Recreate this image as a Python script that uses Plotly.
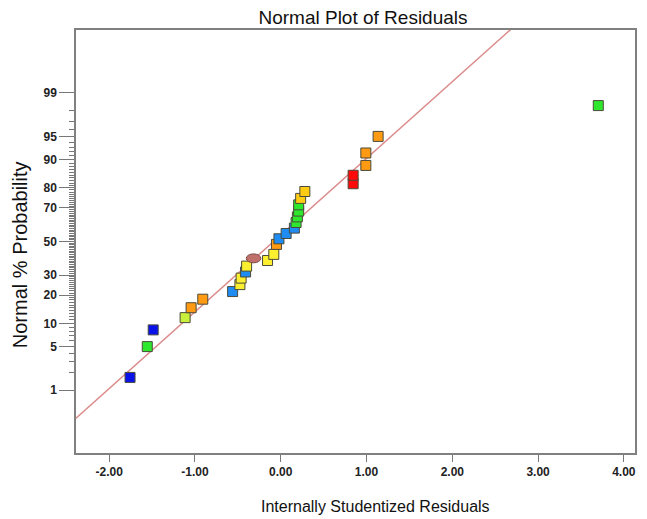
import plotly.graph_objects as go
from statistics import NormalDist

# ---------------- data ----------------
residuals = [-1.757, -1.556, -1.487, -1.115, -1.045, -0.909, -0.561, -0.476, -0.462, -0.410, -0.398,
             -0.154, -0.081, -0.050, -0.021, 0.063, 0.159, 0.179, 0.194, 0.209, 0.209, 0.232, 0.281,
             0.844, 0.844, 0.992, 0.992, 1.135, 3.702]
probabilities = [1.67, 5.0, 8.33, 11.67, 15.0, 18.33, 21.67, 25.0, 28.33, 31.67, 35.0,
                 38.3, 42.0, 48.2, 51.7, 55.0, 58.3, 61.7, 65.0, 68.3, 71.7, 75.0, 78.3,
                 81.7, 85.0, 88.3, 91.7, 95.0, 98.33]
highlight_residual = [-0.317]
highlight_probability = [39.6]

line_mean = -0.083
line_sd = 0.833

x_tick_vals = [-2, -1, 0, 1, 2, 3, 4]
x_tick_text = ["-2.00", "-1.00", "0.00", "1.00", "2.00", "3.00", "4.00"]
y_tick_pcts = [1, 5, 10, 20, 30, 50, 70, 80, 90, 95, 99]
y_tick_text = ["1", "5", "10", "20", "30", "50", "70", "80", "90", "95", "99"]
y_minor_pcts = [p for p in range(2, 99) if p not in y_tick_pcts]

# ---------------- styles ----------------
DB, BL, GR, YG, YE, GO, OR, RD = ("#0a12ea", "#1e8cf2", "#2ee82e", "#c8f03c",
                                  "#fbef30", "#ffcc14", "#ff9a12", "#ff0a0a")
point_colors = [DB, GR, DB, YG, OR, OR, BL, YE, YE, BL, YE,
                YE, YE, OR, BL, BL, BL, GR, GR, GR, GR, GO, GO,
                RD, RD, OR, OR, OR, GR]

nd = NormalDist()
def z(p):
    return nd.inv_cdf(p / 100.0)

XR = [-2.387, 4.13]
YR = [-3.31, 3.31]

W, H = 639, 511          # page body has an 8px margin
ML, MR, MT, MB = 68, 10, 22, 66
PW, PH = W - ML - MR, H - MT - MB

fig = go.Figure()

# reference line
lx = [XR[0], XR[1]]
ly = [(v - line_mean) / line_sd for v in lx]
fig.add_trace(go.Scatter(x=lx, y=ly, mode="lines",
                         line=dict(color="#dc8a8a", width=1.5),
                         hoverinfo="skip", showlegend=False))

fig.add_trace(go.Scatter(
    x=residuals, y=[z(p) for p in probabilities], mode="markers",
    marker=dict(symbol="square", size=10, color=point_colors,
                line=dict(color="#4a4a3a", width=1)),
    showlegend=False))

# highlighted run drawn as an ellipse
hx = highlight_residual[0]
hz = z(highlight_probability[0])
fig.add_shape(type="circle", xref="x", yref="y",
              x0=hx - 0.085, x1=hx + 0.085, y0=hz - 0.07, y1=hz + 0.07,
              fillcolor="#c0706a", line=dict(color="#7a4a44", width=1), layer="above")

axis_font = dict(family="Liberation Sans, Arial, sans-serif", color="#222222")

fig.update_layout(
    width=W, height=H,
    margin=dict(l=ML, r=MR, t=MT, b=MB),
    paper_bgcolor="white", plot_bgcolor="white",
    font=axis_font,
    title=dict(text="Normal Plot of Residuals", x=355 / W, xref="container", xanchor="center",
               y=1 - 3 / H, yref="container", yanchor="top", pad=dict(t=0, b=0),
               font=dict(size=19, color="#111111", family="Liberation Sans, Arial, sans-serif")),
    xaxis=dict(range=XR, showgrid=False, zeroline=False,
               tickmode="array", tickvals=x_tick_vals, ticktext=x_tick_text,
               ticks="outside", ticklen=7, tickwidth=1, tickcolor="#777777",
               tickfont=dict(size=12, weight="bold", color="#222222"),
               showline=True, linecolor="#808080", linewidth=1.5, mirror=True),
    yaxis=dict(range=YR, showgrid=False, zeroline=False,
               tickmode="array", tickvals=[z(p) for p in y_tick_pcts], ticktext=y_tick_text,
               ticks="outside", ticklen=15, tickwidth=1, tickcolor="#777777",
               tickfont=dict(size=12, weight="bold", color="#222222"),
               minor=dict(tickmode="array", tickvals=[z(p) for p in y_minor_pcts],
                          ticks="outside", ticklen=5, tickwidth=1, tickcolor="#777777",
                          showgrid=False),
               showline=True, linecolor="#808080", linewidth=1.5, mirror=True),
    annotations=[
        dict(text="Internally Studentized Residuals", xref="paper", yref="paper",
             x=(369 - ML) / PW, y=-(498 - (MT + PH)) / PH, xanchor="center", yanchor="middle",
             showarrow=False, font=dict(size=16, color="#111111")),
        dict(text="Normal % Probability", xref="paper", yref="paper",
             x=(12 - ML) / PW, y=((MT + PH) - 247) / PH, xanchor="center", yanchor="middle",
             textangle=-90, showarrow=False, font=dict(size=20, color="#111111")),
    ],
)

fig.write_html("out.html")
